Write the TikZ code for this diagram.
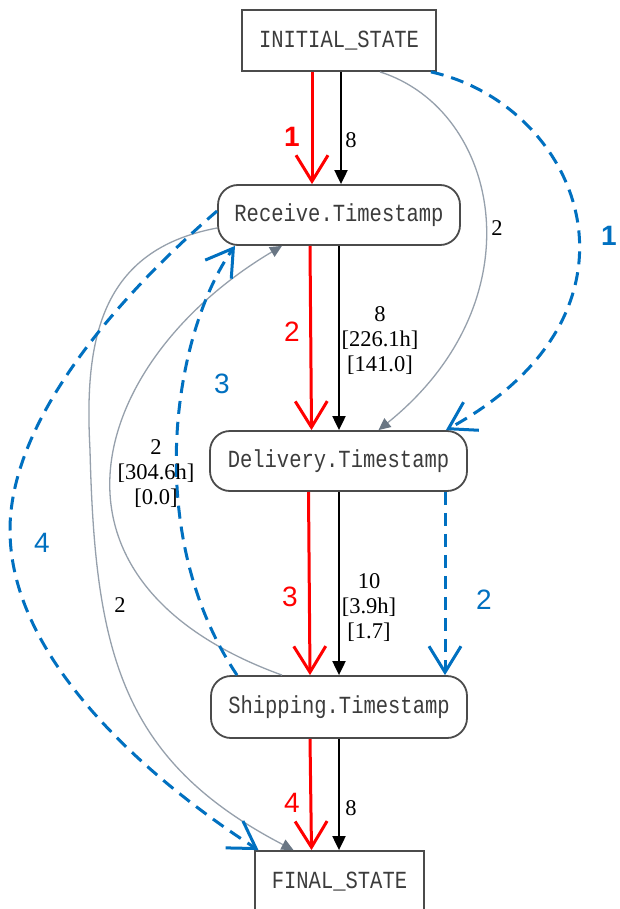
\documentclass[tikz,border=0pt]{standalone}
\usepackage{fontspec}
\usepackage{graphicx}
\setmainfont{Liberation Serif}
\newfontfamily\monofnt{Liberation Mono}
\newfontfamily\sansfnt{Liberation Sans}
\usetikzlibrary{arrows.meta}
\definecolor{redc}{RGB}{255,0,0}
\definecolor{bluec}{RGB}{0,112,192}
\definecolor{grayline}{RGB}{150,160,172}
\definecolor{grayhead}{RGB}{105,118,132}
\definecolor{bordc}{RGB}{75,75,75}
\definecolor{txtc}{RGB}{60,60,60}
\newcommand\nodetxt[1]{\scalebox{1}[1.2]{#1}}
\begin{document}
\begin{tikzpicture}[x=1pt,y=-1pt,
  box/.style={draw=bordc,line width=1.8pt,fill=white,minimum height=61pt,inner sep=0pt,
    font=\monofnt\fontsize{20.5}{22}\selectfont,text=txtc},
  rbox/.style={box,rounded corners=20pt},
  redarr/.style={draw=redc,line width=3pt,-{Straight Barb[length=26pt,width=32pt]}},
  blkarr/.style={draw=black,line width=2pt,-{Triangle[length=14pt,width=13pt]}},
  grayarr/.style={draw=grayline,line width=1.3pt,-{Triangle[length=12pt,width=11pt,fill=grayhead,color=grayhead]}},
  bluearr/.style={draw=bluec,line width=3pt,dash pattern=on 13pt off 8pt,-{Straight Barb[length=26pt,width=32pt]}},
  rnum/.style={text=redc,font=\sansfnt\fontsize{28}{30}\selectfont,inner sep=0pt},
  bnum/.style={text=bluec,font=\sansfnt\fontsize{28}{30}\selectfont,inner sep=0pt},
  lbl/.style={text=black,font=\fontsize{22.5}{25}\selectfont,align=center,inner sep=0pt},
]
\clip (0,0) rectangle (620,909);
\fill[white] (0,0) rectangle (620,909);

% nodes
\node[box,minimum width=194pt] (init) at (339,40.5) {\nodetxt{INITIAL\_STATE}};
\node[rbox,minimum width=242pt,minimum height=60pt] (rec) at (339,215) {\nodetxt{Receive.Timestamp}};
\node[rbox,minimum width=257pt,minimum height=60pt] (del) at (338.5,461) {\nodetxt{Delivery.Timestamp}};
\node[rbox,minimum width=256pt,minimum height=62pt] (ship) at (339,707) {\nodetxt{Shipping.Timestamp}};
\node[box,minimum width=169pt] (fin) at (339.5,881.5) {\nodetxt{FINAL\_STATE}};

% red path
\draw[redarr] ([xshift=-27pt]init.south) -- ([xshift=-27pt]rec.north);
\draw[redarr] ([xshift=-29pt]rec.south) -- ([xshift=-27pt]del.north);
\draw[redarr] ([xshift=-30pt]del.south) -- ([xshift=-29pt]ship.north);
\draw[redarr] ([xshift=-29pt]ship.south) -- ([xshift=-28pt]fin.north);

% black path
\draw[blkarr] ([xshift=2pt]init.south) -- ([xshift=2pt]rec.north);
\draw[blkarr] (rec.south) -- ([xshift=0.5pt]del.north);
\draw[blkarr] ([xshift=0.5pt]del.south) -- (ship.north);
\draw[blkarr] (ship.south) -- ([xshift=-0.5pt]fin.north);

% gray curves
\draw[grayarr] ([xshift=41pt]init.south) .. controls (500,110) and (540,300) .. ([xshift=40pt]del.north);
\draw[grayarr] ([xshift=-57pt]ship.north) .. controls (20,580) and (90,360) .. ([xshift=-57pt]rec.south);
\draw[grayarr] ([yshift=-13pt]rec.west) .. controls (100,250) and (84,340) .. (90,450)
   .. controls (95,650) and (120,760) .. ([xshift=-46pt]fin.north);

% blue dashed
\draw[bluearr] ([xshift=-6pt]init.south east) .. controls (580,105) and (665,310) .. ([xshift=-22pt]del.north east);
\draw[bluearr] ([xshift=106.5pt]del.south) -- ([xshift=106pt]ship.north);
\draw[bluearr] ([xshift=-102pt]ship.north) .. controls (140,530) and (175,330) .. ([xshift=-104pt]rec.south);
\draw[bluearr] ([yshift=4pt]rec.west) .. controls (160,260) and (10,400) .. (10,530)
   .. controls (10,660) and (150,780) .. ([xshift=-81pt]fin.north);

% red numbers
\node[rnum,font=\sansfnt\bfseries\fontsize{28}{30}\selectfont] (r1) at (292,137) {1};
\node[rnum] (r2) at (292,332) {2};
\node[rnum] (r3) at (290,597) {3};
\node[rnum] (r4) at (292,803) {4};

% blue numbers
\node[bnum,font=\sansfnt\bfseries\fontsize{28}{30}\selectfont] (b1) at (609,236) {1};
\node[bnum] (b2) at (484,600) {2};
\node[bnum] (b3) at (222,384) {3};
\node[bnum] (b4) at (42,543) {4};

% black labels
\node[lbl] (k1) at (351,140) {8};
\node[lbl] (k2) at (380,341) {8\\{}[226.1h]\\{}[141.0]};
\node[lbl] (k3) at (369,608) {10\\{}[3.9h]\\{}[1.7]};
\node[lbl] (k4) at (351,808) {8};
\node[lbl] (g1) at (497,228) {2};
\node[lbl] (g2) at (156,474) {2\\{}[304.6h]\\{}[0.0]};
\node[lbl] (g3) at (120,605) {2};
\end{tikzpicture}
\end{document}
